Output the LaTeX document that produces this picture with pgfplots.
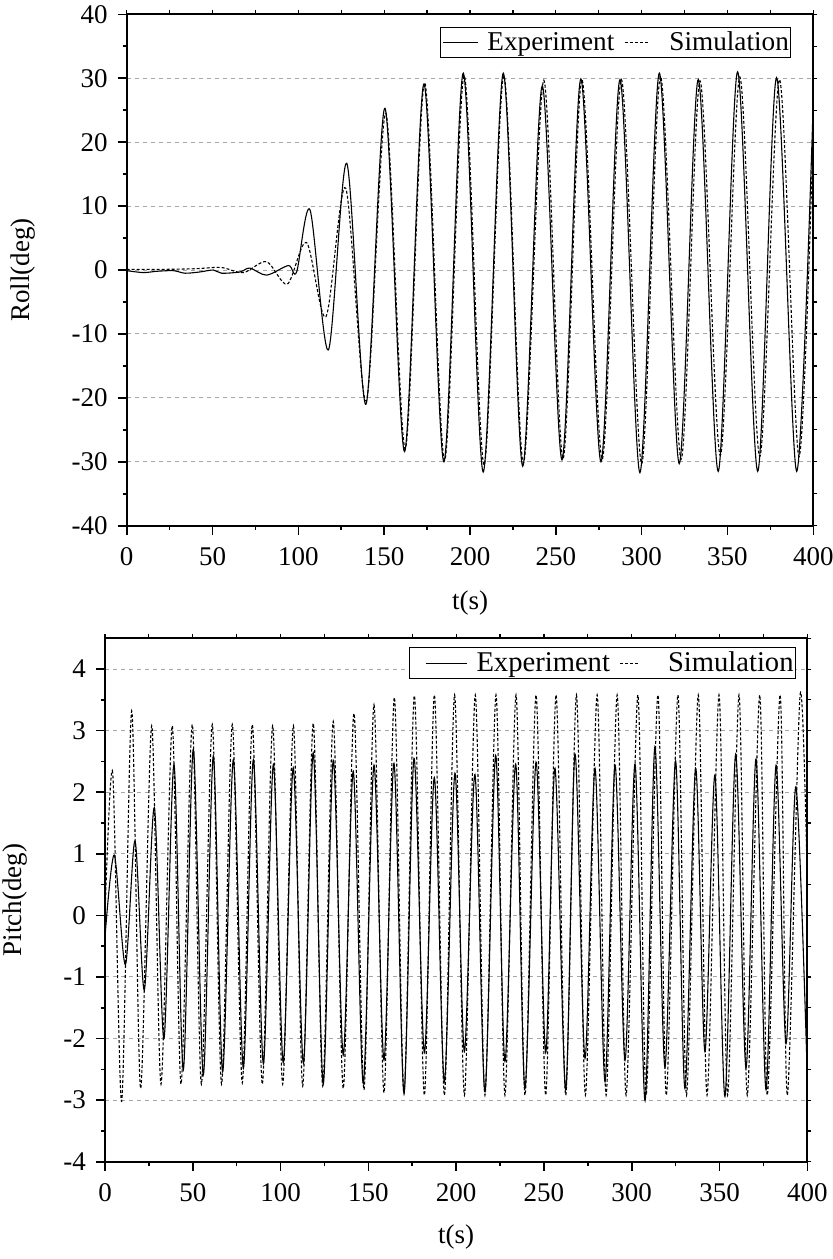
\documentclass[border=0pt]{standalone}
\usepackage{fontspec}
\setmainfont{Liberation Serif}
\usepackage{pgfplots}
\pgfplotsset{compat=1.18}
\newcommand\lblfont{\fontsize{13.5}{16}\selectfont}
\newcommand\legfontA{\fontsize{13.6}{16}\selectfont}
\newcommand\legfontB{\fontsize{14.3}{16}\selectfont}

\pgfplotstableread{
t v
0 -0.1
9.7 -0.4
17.5 -0.2
27.2 -0.1
34 -0.5
42.7 -0.3
50.5 0.0
55.3 -0.5
66 -0.3
71.8 0.3
81.5 -0.8
94.2 0.7
99 -0.3
106.8 9.4
117.5 -12.5
128.2 16.7
139.4 -21.0
150.5 25.3
161.9 -28.4
173.2 29.1
184.8 -30.0
196.1 30.8
207.7 -31.6
219.4 30.8
230.7 -30.7
242.1 28.8
253.6 -29.7
264.6 29.9
276.3 -30.0
287.4 29.8
299.0 -31.7
310.3 30.8
321.9 -30.3
333.0 29.8
344.6 -31.5
355.9 31.0
367.6 -31.5
378.6 30.1
390.3 -31.5
400 26.5
}\rollexp

\pgfplotstableread{
t v
0 0.1
20 0.1
40 0.2
55 0.4
68 -0.4
81.5 1.3
93.6 -2.2
104.8 4.3
116.1 -7.3
127.6 12.8
139.6 -20.5
151 24.5
162.3 -28
173.6 29.3
185.2 -29.8
196.6 30.4
208.2 -30.5
219.7 30.4
231.1 -30.2
243.0 29.7
254.2 -29.5
265.2 29.8
277.0 -29.6
288.2 29.8
300.0 -30.3
311.0 30.3
323.0 -29.6
334.0 29.6
345.8 -29.0
357.2 30.2
368.8 -29.2
380.3 29.8
391.6 -29.2
400 22
}\rollsim

\pgfplotstableread{
t v
0 -0.35
5.3 0.98
11.6 -0.80
17.1 1.21
22.4 -1.21
28.1 1.75
33.6 -2.00
39.3 2.45
44.6 -2.51
50.3 2.70
56.0 -2.59
61.7 2.59
67.0 -2.54
73.1 2.53
78.8 -2.48
84.5 2.53
90.2 -2.41
95.9 2.45
101.5 -2.39
107.2 2.40
113.0 -2.40
118.6 2.64
124.3 -2.74
130.0 2.52
135.7 -2.27
141.4 2.34
147.1 -2.73
153.2 2.44
158.9 -2.35
164.6 2.47
170.3 -2.88
176.0 2.55
181.9 -2.23
187.6 2.24
193.3 -2.70
199.3 2.31
204.7 -2.21
210.7 2.29
216.4 -2.86
222.5 2.60
227.8 -2.37
233.9 2.46
239.2 -2.81
245.5 2.49
251.0 -2.23
256.3 2.39
262.4 -2.83
267.7 2.62
273.4 -2.32
279.1 2.39
284.8 -2.70
290.5 2.44
296.2 -2.35
301.9 2.46
307.6 -3.01
313.2 2.74
318.9 -2.46
325.0 2.51
330.3 -2.81
336.4 2.39
341.7 -2.21
347.4 2.28
353.1 -2.94
359.2 2.62
365.1 -2.48
370.8 2.54
376.5 -2.83
382.2 2.44
387.9 -2.08
393.5 2.09
400 -2.62
}\pitchexp

\pgfplotstableread{
t v
0 0.0
4.4 2.31
9.5 -3.02
15.2 3.32
20.3 -2.81
26.6 3.08
31.9 -2.74
38.3 3.08
43.3 -2.74
49.7 3.10
54.9 -2.74
61.1 3.10
66.4 -2.74
72.5 3.10
78.2 -2.72
83.9 3.10
89.6 -2.74
95.5 3.08
101.2 -2.74
107.3 3.08
112.6 -2.77
118.6 3.12
124.0 -2.77
130.0 3.15
135.7 -2.81
141.8 3.28
147.5 -2.83
153.2 3.42
158.9 -2.88
164.8 3.54
170.3 -2.90
176.2 3.57
181.9 -2.92
187.6 3.58
193.3 -2.92
199.1 3.58
204.7 -2.92
210.9 3.58
216.4 -2.92
222.7 3.58
227.8 -2.92
234.1 3.58
239.2 -2.92
245.5 3.58
251.0 -2.92
256.9 3.58
262.4 -2.92
268.5 3.58
273.6 -2.92
280.3 3.58
285.4 -2.92
291.7 3.58
296.8 -2.92
303.5 3.58
308.2 -2.92
314.9 3.58
319.7 -2.92
326.3 3.58
331.2 -2.92
337.9 3.58
342.9 -2.92
349.7 3.58
354.6 -2.92
361.1 3.58
365.8 -2.92
372.9 3.58
377.2 -2.92
384.5 3.58
388.6 -2.92
395.9 3.58
400 0.5
}\pitchsim

\pgfplotsset{
  myax/.style={
    scale only axis, anchor=south west,
    xmin=0, xmax=400, xtick={0,50,...,400}, minor x tick num=1,
    tick align=outside, xtick pos=left, ytick pos=left,
    major tick length=4.5pt, minor tick length=2pt,
    every tick/.style={black, line width=0.8pt},
    axis line style={line width=1pt},
    ymajorgrids,
    grid style={gray!70, line width=0.5pt, dash pattern=on 2pt off 2pt},
    tick label style={font=\lblfont},
    xticklabel style={yshift=-3pt},
    yticklabel style={xshift=-1.5pt},
    label style={font=\lblfont},
    /pgf/number format/assume math mode=true,
    legend columns=2,
    legend style={draw=black, line width=0.5pt,
      inner xsep=1pt, inner ysep=1pt,
      nodes={inner xsep=0pt, inner ysep=1pt},
      /tikz/every odd column/.append style={column sep=4.5pt},
      /tikz/every even column/.append style={column sep=5pt}},
  },
  topax/.style={
    scale only axis, anchor=south west,
    xmin=0, xmax=400, xtick={0,25,...,400},
    tick align=outside, xtick pos=right, ytick pos=right,
    major tick length=2pt,
    every tick/.style={black, line width=0.6pt},
    axis line style={line width=1pt},
    xticklabels={}, yticklabels={},
  },
  expA/.style={black, line width=0.55pt, smooth,
    legend image code/.code={\draw[##1,line width=0.55pt] (0pt,0pt) -- (17.5pt,0pt);}},
  simA/.style={black, line width=0.55pt, smooth, dash pattern=on 1.5pt off 1pt,
    legend image code/.code={\draw[##1,line width=0.55pt] (0pt,0pt) -- (11.5pt,0pt); \path (17.5pt,0pt);}},
  expB/.style={black, line width=0.55pt, smooth,
    legend image code/.code={\path (0pt,0pt); \draw[##1,line width=0.55pt] (7pt,0pt) -- (27.5pt,0pt);}},
  simB/.style={black, line width=0.55pt, smooth, dash pattern=on 1.5pt off 1pt,
    legend image code/.code={\draw[##1,line width=0.55pt] (0pt,0pt) -- (10pt,0pt); \path (19pt,0pt);}},
}

\begin{document}
\begin{tikzpicture}
\path[use as bounding box] (0pt,0pt) rectangle (416.5pt,-629.5pt);

\begin{axis}[myax, at={(63.35pt,-262.85pt)},
  width=343.3pt, height=255.7pt,
  ymin=-40, ymax=40, ytick={-40,-30,...,40}, minor y tick num=1,
  xlabel={t(s)}, ylabel={Roll(deg)},
  xlabel style={at={(axis description cs:0.5,-0.1517)}, anchor=center},
  ylabel style={at={(axis description cs:-0.151,0.5)}, anchor=center},
  legend style={at={(0.968,0.975)}, anchor=north east, font=\legfontA},
]
\addplot[expA] table[x=t,y=v] {\rollexp};
\addlegendentry{Experiment}
\addplot[simA] table[x=t,y=v] {\rollsim};
\addlegendentry{Simulation}
\end{axis}
\begin{axis}[topax, at={(63.35pt,-262.85pt)},
  width=343.3pt, height=255.7pt,
  ymin=-40, ymax=40, ytick={-40,-35,...,40}]
\end{axis}

\begin{axis}[myax, at={(52.5pt,-580.85pt)},
  width=351.15pt, height=261.7pt,
  ymin=-4, ymax=4.5, ytick={-4,-3,...,4}, minor y tick num=1,
  xlabel={t(s)}, ylabel={Pitch(deg)},
  xlabel style={at={(axis description cs:0.5,-0.143)}, anchor=center},
  ylabel style={at={(axis description cs:-0.128,0.5)}, anchor=center},
  legend style={at={(0.984,0.983)}, anchor=north east, font=\legfontB},
]
\addplot[expB] table[x=t,y=v] {\pitchexp};
\addlegendentry{Experiment}
\addplot[simB] table[x=t,y=v] {\pitchsim};
\addlegendentry{Simulation}
\end{axis}
\begin{axis}[topax, at={(52.5pt,-580.85pt)},
  width=351.15pt, height=261.7pt,
  ymin=-4, ymax=4.5, ytick={-4,-3.5,...,4.5}]
\end{axis}
\end{tikzpicture}
\end{document}
